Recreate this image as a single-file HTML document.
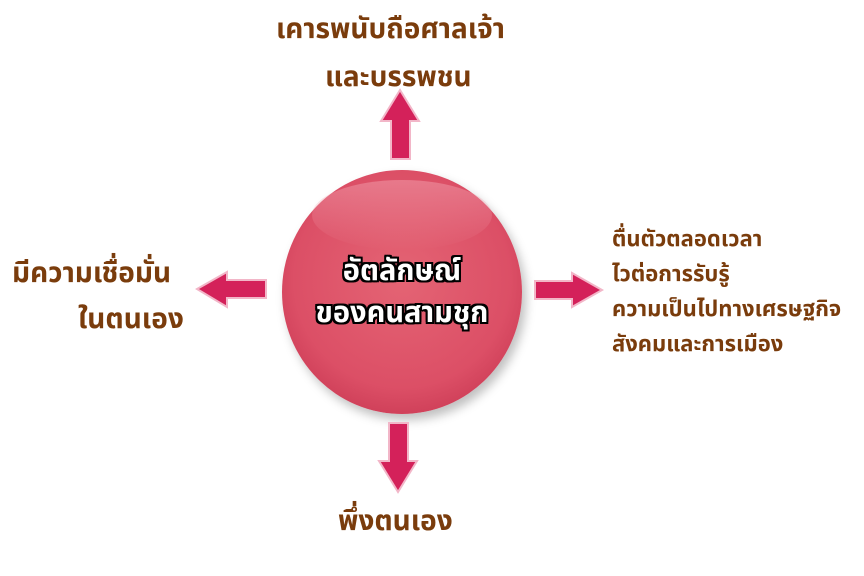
<!DOCTYPE html>
<html><head><meta charset="utf-8"><style>
body{margin:0;width:864px;height:576px;background:#fff;position:relative;overflow:hidden;font-family:"Liberation Sans","Noto Sans Thai","Garuda","Loma",sans-serif;}
.t{position:absolute;color:#7a3c0c;font-weight:bold;white-space:nowrap;}
.c{position:absolute;left:282px;top:170px;width:240px;height:244px;border-radius:50%;
background:radial-gradient(circle at 50% 45%,#e46474 0%,#dc4f66 60%,#c2304c 92%,#a8223c 100%);
box-shadow:4px 6px 10px rgba(0,0,0,0.25);}
.hl{position:absolute;left:312px;top:180px;width:180px;height:70px;border-radius:50%;
background:linear-gradient(#f4a8b477,#f0909f00);}
.ct{position:absolute;left:282px;width:240px;text-align:center;color:#fff;font-weight:bold;font-size:29px;
text-shadow:-2px -2px 0 #000,2px -2px 0 #000,-2px 2px 0 #000,2px 2px 0 #000,0 2px 0 #000,0 -2px 0 #000,2px 0 0 #000,-2px 0 0 #000;}
</style></head><body>
<div class="t" style="left:276px;top:8px;font-size:28px;">เคารพนับถือศาลเจ้า</div>
<div class="t" style="left:325px;top:56px;font-size:28px;">และบรรพชน</div>
<div class="t" style="left:12px;top:252px;font-size:28px;">มีความเชื่อมั่น</div>
<div class="t" style="left:78px;top:298px;font-size:28px;">ในตนเอง</div>
<div class="t" style="left:612px;top:221px;font-size:22px;line-height:35px;">ตื่นตัวตลอดเวลา<br>ไวต่อการรับรู้<br>ความเป็นไปทางเศรษฐกิจ<br>สังคมและการเมือง</div>
<div class="t" style="left:338px;top:500px;font-size:28px;">พึ่งตนเอง</div>
<div class="c"></div><div class="hl"></div>
<div class="ct" style="top:250px;">อัตลักษณ์</div>
<div class="ct" style="top:292px;">ของคนสามชุก</div>
<svg width="864" height="576" style="position:absolute;left:0;top:0">
<g fill="#d4215a" stroke="#f2b6c8" stroke-width="2">
<polygon points="400,90 419,121 410,121 410,159 391,159 391,121 381,121"/>
<polygon points="197,289 227,272 227,280 266,280 266,298 227,298 227,307"/>
<polygon points="602,290 572,273 572,281 535,281 535,299 572,299 572,307"/>
<polygon points="398,492 417,461 408,461 408,423 389,423 389,461 379,461"/>
</g></svg>
</body></html>
